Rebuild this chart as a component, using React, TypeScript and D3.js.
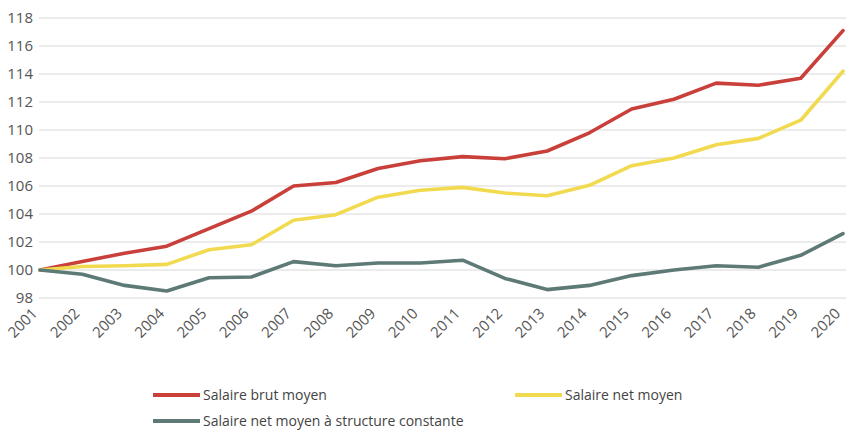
import React, { useEffect, useRef } from "react";
import * as d3 from "d3";

const years = [
  "2001", "2002", "2003", "2004", "2005", "2006", "2007", "2008", "2009", "2010",
  "2011", "2012", "2013", "2014", "2015", "2016", "2017", "2018", "2019", "2020",
];
const brut = [
  100, 100.6, 101.2, 101.7, 102.95, 104.2, 106.0, 106.25, 107.25, 107.8,
  108.1, 107.95, 108.5, 109.8, 111.5, 112.2, 113.35, 113.2, 113.7, 117.1,
];
const net = [
  100, 100.25, 100.3, 100.4, 101.45, 101.8, 103.55, 103.95, 105.2, 105.7,
  105.9, 105.5, 105.3, 106.05, 107.45, 108.0, 108.95, 109.4, 110.7, 114.2,
];
const netStructure = [
  100, 99.7, 98.9, 98.5, 99.45, 99.5, 100.6, 100.3, 100.5, 100.5,
  100.7, 99.4, 98.6, 98.9, 99.6, 100.0, 100.3, 100.2, 101.05, 102.6,
];
const yTicks = [98, 100, 102, 104, 106, 108, 110, 112, 114, 116, 118];

const series = [
  { name: "Salaire brut moyen", values: brut, color: "#c9403a" },
  { name: "Salaire net moyen", values: net, color: "#f2da50" },
  { name: "Salaire net moyen à structure constante", values: netStructure, color: "#5e7a76" },
];

const W = 846;
const H = 430;
const font = "'Open Sans', sans-serif";

const App = () => {
  const ref = useRef<SVGSVGElement>(null);

  useEffect(() => {
    const svg = d3.select(ref.current);
    svg.selectAll("*").remove();

    const x = d3.scalePoint().domain(years).range([40, 843]);
    const y = d3.scaleLinear().domain([98, 118]).range([298, 18]);

    // grid
    svg.append("g")
      .selectAll("line")
      .data(yTicks)
      .enter()
      .append("line")
      .attr("x1", 39)
      .attr("x2", W)
      .attr("y1", d => y(d))
      .attr("y2", d => y(d))
      .attr("stroke", "#d8d8d8")
      .attr("stroke-width", 1);

    // y labels
    svg.append("g")
      .selectAll("text")
      .data(yTicks)
      .enter()
      .append("text")
      .attr("x", 33)
      .attr("y", d => y(d))
      .attr("dy", "0.35em")
      .attr("text-anchor", "end")
      .attr("fill", "#555")
      .style("font-family", font)
      .style("font-size", "15px")
      .text(d => d);

    // x labels, rotated
    svg.append("g")
      .selectAll("text")
      .data(years)
      .enter()
      .append("text")
      .attr("transform", d => `translate(${x(d)! - 9},${307}) rotate(-45)`)
      .attr("text-anchor", "end")
      .attr("dy", "0.7em")
      .attr("fill", "#555")
      .style("font-family", font)
      .style("font-size", "15px")
      .text(d => d);

    const line = d3.line<number>()
      .x((d, i) => x(years[i])!)
      .y(d => y(d));

    series.forEach(s => {
      svg.append("path")
        .datum(s.values)
        .attr("d", line)
        .attr("fill", "none")
        .attr("stroke", s.color)
        .attr("stroke-width", 3.6)
        .attr("stroke-linejoin", "round")
        .attr("stroke-linecap", "round");
    });

    // legend
    const legendPos = [
      { x: 153, y: 395 },
      { x: 515, y: 395 },
      { x: 153, y: 421 },
    ];
    series.forEach((s, i) => {
      const p = legendPos[i];
      svg.append("line")
        .attr("x1", p.x)
        .attr("x2", p.x + 47)
        .attr("y1", p.y)
        .attr("y2", p.y)
        .attr("stroke", s.color)
        .attr("stroke-width", 4);
      svg.append("text")
        .attr("x", p.x + 50)
        .attr("y", p.y)
        .attr("dy", "0.35em")
        .attr("fill", "#444")
        .style("font-family", font)
        .style("font-size", "14px")
        .text(s.name);
    });
  }, []);

  return (
    <div style={{ position: "absolute", left: 0, top: 0 }}>
      <svg ref={ref} width={W} height={H} style={{ display: "block", background: "#fff" }}></svg>
    </div>
  );
};

export default App;
